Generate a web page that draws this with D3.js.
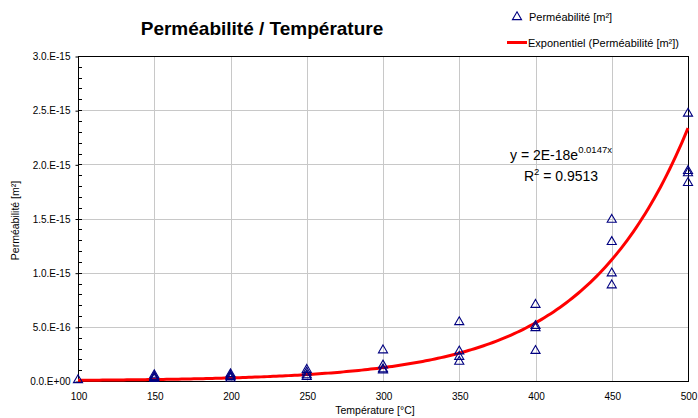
<!DOCTYPE html>
<html>
<head>
<meta charset="utf-8">
<script src="https://cdn.jsdelivr.net/npm/d3@7"></script>
<style>
  html, body { margin: 0; padding: 0; background: #fff; }
  svg { display: block; font-family: "Liberation Sans", Arial, sans-serif; }
</style>
</head>
<body>
<svg id="chart" width="698" height="418"></svg>
<script>
// ---- data ----
const xTicks = [100, 150, 200, 250, 300, 350, 400, 450, 500];
const yTicks = [0, 5e-16, 1e-15, 1.5e-15, 2e-15, 2.5e-15, 3e-15];
const yTickLabels = ["0.0.E+00", "5.0.E-16", "1.0.E-15", "1.5.E-15", "2.0.E-15", "2.5.E-15", "3.0.E-15"];
const temperature = [100, 150, 150, 150, 150, 200, 200, 200, 200, 250, 250, 250, 250,
                     300, 300, 300, 300, 350, 350, 350, 350, 400, 400, 400, 400,
                     450, 450, 450, 450, 500, 500, 500, 500];
const permeability = [0.0,
  0.1e-16, 0.2e-16, 0.3e-16, 0.45e-16,
  0.15e-16, 0.3e-16, 0.4e-16, 0.55e-16,
  0.3e-16, 0.45e-16, 0.7e-16, 0.95e-16,
  0.9e-16, 1.0e-16, 1.35e-16, 2.75e-16,
  1.7e-16, 2.15e-16, 2.65e-16, 5.35e-16,
  2.7e-16, 4.8e-16, 5.0e-16, 6.95e-16,
  8.75e-16, 9.85e-16, 12.75e-16, 14.8e-16,
  18.2e-16, 19.1e-16, 19.3e-16, 24.6e-16];
// exponential trend line fitted by the original chart: y = a * e^(b x)
const fitA = 1.5e-18;
const fitB = 0.0147;
const titleText = "Perméabilité / Température";
const xTitle = "Température [°C]";
const yTitle = "Perméabilité [m²]";
const legendLabels = ["Perméabilité [m²]", "Exponentiel (Perméabilité [m²])"];
const eqMain = "y = 2E-18e";
const eqExp = "0.0147x";
const r2Value = "0.9513";

// ---- layout ----
const svg = d3.select("#chart");
const pL = 78, pR = 688, pT = 56, pB = 381;
const x = d3.scaleLinear().domain([100, 500]).range([pL, pR]);
const y = d3.scaleLinear().domain([0, 3e-15]).range([pB, pT]);

// gridlines
const grid = svg.append("g").attr("stroke", "#c8c8c8").attr("stroke-width", 1);
grid.selectAll("line.v").data(xTicks.slice(1, -1)).join("line")
  .attr("x1", d => Math.round(x(d)) + 0.5).attr("x2", d => Math.round(x(d)) + 0.5)
  .attr("y1", pT).attr("y2", pB);
grid.selectAll("line.h").data(yTicks.slice(1, -1)).join("line")
  .attr("y1", d => Math.round(y(d)) + 0.5).attr("y2", d => Math.round(y(d)) + 0.5)
  .attr("x1", pL).attr("x2", pR);

// frame
svg.append("rect").attr("x", pL + 0.5).attr("y", pT + 0.5)
  .attr("width", pR - pL).attr("height", pB - pT)
  .attr("fill", "none").attr("stroke", "#000").attr("stroke-width", 1);

// y axis with minor ticks
const yAxis = d3.axisLeft(y).tickValues(yTicks).tickSize(3)
  .tickFormat((d, i) => yTickLabels[i]).tickPadding(5);
const gy = svg.append("g").attr("transform", `translate(${pL + 0.5},0.5)`).call(yAxis);
gy.select(".domain").remove();
gy.selectAll("text").attr("font-size", 10).attr("fill", "#000")
  .attr("font-family", '"Liberation Sans", Arial, sans-serif');
gy.selectAll("line").attr("stroke", "#000");
const minor = d3.range(0, 31).map(i => i * 1e-16);
svg.append("g").selectAll("line").data(minor).join("line")
  .attr("x1", pL).attr("x2", pL + 4)
  .attr("y1", d => Math.round(y(d)) + 0.5).attr("y2", d => Math.round(y(d)) + 0.5)
  .attr("stroke", "#000");

// x axis
const xAxis = d3.axisBottom(x).tickValues(xTicks).tickSize(0).tickPadding(11);
const gx = svg.append("g").attr("transform", `translate(0.5,${pB + 0.5})`).call(xAxis);
gx.select(".domain").remove();
gx.selectAll("text").attr("font-size", 10).attr("fill", "#000")
  .attr("font-family", '"Liberation Sans", Arial, sans-serif');

// trend line
const xs = d3.range(100, 500.01, 2);
const line = d3.line().x(d => x(d)).y(d => y(fitA * Math.exp(fitB * d))).curve(d3.curveLinear);
svg.append("path").datum(xs).attr("d", line)
  .attr("fill", "none").attr("stroke", "#ff0000").attr("stroke-width", 3);

// points
const tri = d3.symbol().type(d3.symbolTriangle).size(36);
svg.append("g").selectAll("path").data(temperature.map((t, i) => [t, permeability[i]])).join("path")
  .attr("d", tri)
  .attr("transform", d => `translate(${x(d[0])},${y(d[1]) - 1})`)
  .attr("fill", "none").attr("stroke", "#000080").attr("stroke-width", 1.1);

// title
svg.append("text").attr("x", 262).attr("y", 35).attr("text-anchor", "middle")
  .attr("font-size", 19).attr("font-weight", "bold").text(titleText);

// axis titles
svg.append("text").attr("x", (pL + pR) / 2 - 8).attr("y", 414).attr("text-anchor", "middle")
  .attr("font-size", 10.5).text(xTitle);
svg.append("text").attr("transform", `translate(19,${(pT + pB) / 2 + 2}) rotate(-90)`)
  .attr("text-anchor", "middle").attr("font-size", 10.5).text(yTitle);

// legend
svg.append("path").attr("d", tri).attr("transform", "translate(517,17)")
  .attr("fill", "none").attr("stroke", "#000080").attr("stroke-width", 1.1);
svg.append("text").attr("x", 529).attr("y", 21).attr("font-size", 11).text(legendLabels[0]);
svg.append("line").attr("x1", 507).attr("x2", 527).attr("y1", 42.5).attr("y2", 42.5)
  .attr("stroke", "#ff0000").attr("stroke-width", 3);
svg.append("text").attr("x", 528).attr("y", 46.5).attr("font-size", 11).text(legendLabels[1]);

// equation
const eq = svg.append("text").attr("x", 561).attr("y", 160).attr("text-anchor", "middle").attr("font-size", 14);
eq.append("tspan").text(eqMain);
eq.append("tspan").attr("dy", -7).attr("font-size", 9.5).text(eqExp);
const r2 = svg.append("text").attr("x", 561).attr("y", 181).attr("text-anchor", "middle").attr("font-size", 14);
r2.append("tspan").text("R");
r2.append("tspan").attr("dy", -6).attr("font-size", 9.5).text("2");
r2.append("tspan").attr("dy", 6).text(" = " + r2Value);
</script>
</body>
</html>
